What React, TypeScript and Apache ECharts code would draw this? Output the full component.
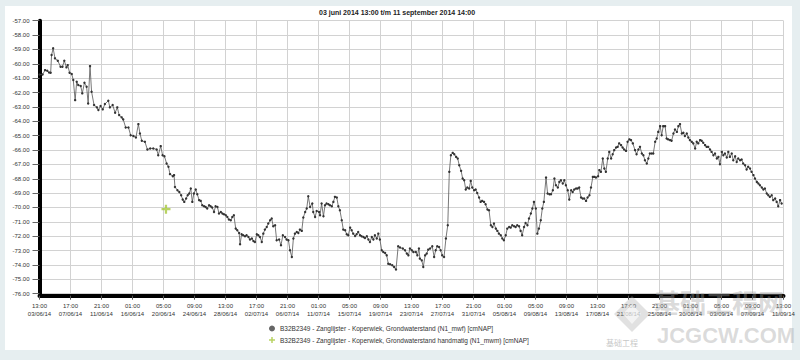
import React, { useEffect, useRef } from "react";
import * as echarts from "echarts";

const TITLE = "03 juni 2014 13:00 t/m 11 september 2014 14:00";
const SERIES_MWF = "B32B2349 - Zanglijster - Koperwiek, Grondwaterstand (N1_mwf) [cmNAP]";
const SERIES_MWM = "B32B2349 - Zanglijster - Koperwiek, Grondwaterstand handmatig (N1_mwm) [cmNAP]";

// start of the period: 03-06-2014 13:00
const START_UTC = Date.UTC(2014, 5, 3, 13, 0);
// x-axis: hours since start, one tick every 100 h
const X_MIN = 0;
const X_MAX = 2400;
const X_STEP = 100;
const Y_MIN = -76;
const Y_MAX = -57;
const Y_STEP = 1;

// hours since start of each logger reading
const hours = [
  0, 10, 18, 25, 31, 36, 39, 44, 50, 59,
  68, 74, 80, 87, 91, 97, 104, 109, 115, 120,
  125, 133, 138, 145, 152, 157, 163, 168, 176, 185,
  190, 197, 204, 211, 222, 227, 236, 244, 251, 257,
  265, 270, 278, 287, 294, 303, 311, 319, 324, 330,
  340, 348, 357, 367, 378, 383, 391, 397, 403, 410,
  416, 421, 430, 434, 437, 445, 451, 457, 462, 467,
  473, 478, 483, 488, 493, 498, 504, 509, 515, 520,
  525, 531, 536, 541, 547, 552, 557, 563, 568, 574,
  579, 585, 590, 595, 601, 606, 611, 617, 622, 627,
  633, 638, 644, 647, 652, 657, 663, 668, 674, 679,
  685, 690, 695, 701, 706, 711, 717, 722, 727, 733,
  738, 744, 749, 754, 760, 765, 773, 779, 785, 792,
  797, 803, 808, 814, 819, 824, 830, 835, 840, 846,
  851, 857, 862, 867, 873, 880, 883, 889, 894, 902,
  905, 910, 916, 921, 926, 932, 937, 943, 948, 953,
  959, 964, 969, 975, 980, 986, 991, 996, 1002, 1007,
  1012, 1018, 1023, 1028, 1034, 1039, 1045, 1050, 1056, 1061,
  1066, 1072, 1077, 1082, 1088, 1093, 1098, 1104, 1109, 1115,
  1120, 1125, 1131, 1138, 1144, 1150, 1157, 1163, 1172, 1179,
  1185, 1190, 1195, 1201, 1206, 1214, 1219, 1224, 1227, 1233,
  1238, 1244, 1249, 1254, 1260, 1267, 1273, 1278, 1283, 1289,
  1294, 1299, 1305, 1311, 1317, 1322, 1327, 1333, 1338, 1344,
  1349, 1354, 1360, 1365, 1370, 1375, 1380, 1386, 1391, 1396,
  1402, 1407, 1412, 1418, 1423, 1428, 1434, 1439, 1445, 1450,
  1456, 1461, 1466, 1472, 1477, 1482, 1488, 1493, 1498, 1504,
  1509, 1515, 1520, 1525, 1531, 1536, 1541, 1547, 1552, 1557,
  1563, 1568, 1574, 1579, 1585, 1590, 1595, 1601, 1606, 1611,
  1617, 1622, 1627, 1634, 1639, 1645, 1650, 1656, 1661, 1666,
  1672, 1677, 1682, 1688, 1693, 1698, 1704, 1709, 1715, 1720,
  1725, 1731, 1736, 1741, 1747, 1752, 1757, 1763, 1768, 1774,
  1779, 1785, 1790, 1795, 1802, 1806, 1811, 1817, 1822, 1827,
  1833, 1838, 1844, 1849, 1854, 1860, 1865, 1870, 1876, 1881,
  1886, 1892, 1897, 1903, 1908, 1914, 1921, 1926, 1932, 1937,
  1943, 1948, 1953, 1959, 1964, 1969, 1975, 1980, 1986, 1991,
  1996, 2002, 2007, 2012, 2018, 2023, 2028, 2034, 2039, 2045,
  2050, 2056, 2061, 2066, 2072, 2077, 2082, 2088, 2093, 2098,
  2104, 2109, 2115, 2120, 2125, 2131, 2136, 2141, 2147, 2152,
  2157, 2163, 2168, 2174, 2179, 2185, 2190, 2195, 2201, 2206,
  2211, 2217, 2222, 2227, 2233, 2238, 2244, 2249, 2254, 2260,
  2265, 2270, 2276, 2281, 2286, 2292, 2297, 2303, 2308, 2314,
  2319, 2324, 2330, 2335, 2340, 2346, 2351, 2356, 2362, 2367,
  2373, 2378, 2383, 2389, 2394,
];

// groundwater level (N1_mwf) in cm NAP
const levels = [
  -60.74, -60.74, -60.44, -60.48, -60.6, -60.62, -59.39, -58.92, -59.62, -59.79,
  -60.21, -60.21, -59.79, -60.25, -60.09, -60.62, -60.71, -61.13, -62.53, -61.25,
  -61.48, -61.55, -62.06, -61.32, -61.6, -62.76, -60.16, -61.95, -62.87, -63.03,
  -63.22, -62.94, -63.17, -62.8, -62.57, -63.03, -62.87, -63.41, -63.03, -63.57,
  -63.73, -63.87, -64.43, -64.43, -64.97, -65.03, -65.13, -64.2, -64.85, -65.36,
  -65.43, -65.96, -65.89, -65.89, -65.96, -66.36, -65.73, -66.36, -66.43, -66.94,
  -67.17, -67.68, -67.82, -67.75, -68.57, -68.8, -68.92, -69.15, -69.45, -69.61,
  -69.38, -69.15, -69.03, -68.68, -69.61, -69.03, -68.75, -69.08, -69.49, -69.54,
  -69.84, -69.91, -69.96, -70.07, -69.84, -69.91, -70.0, -70.31, -69.91, -69.96,
  -70.42, -70.31, -70.42, -70.47, -70.54, -70.66, -70.84, -70.89, -70.66, -70.54,
  -71.47, -71.59, -71.77, -72.56, -71.86, -71.93, -72.0, -71.93, -72.05, -72.23,
  -72.16, -72.33, -72.4, -71.86, -71.93, -72.05, -72.4, -71.82, -71.54, -71.36,
  -71.12, -70.89, -70.77, -71.31, -71.24, -72.28, -72.23, -72.63, -71.93, -72.05,
  -72.23, -72.28, -72.98, -73.45, -72.16, -71.82, -71.7, -71.77, -71.54, -71.63,
  -70.7, -70.31, -70.07, -69.22, -69.96, -69.72, -70.31, -70.66, -70.24, -70.31,
  -70.54, -69.72, -70.61, -69.84, -69.72, -69.77, -69.84, -69.91, -69.61, -69.26,
  -69.31, -69.91, -70.19, -70.89, -71.54, -71.59, -71.86, -71.93, -71.4, -71.59,
  -71.82, -71.98, -71.86, -71.7, -71.93, -72.0, -72.05, -72.12, -72.0, -72.23,
  -72.4, -72.05, -72.23, -71.93, -72.16, -71.82, -72.23, -72.98, -73.1, -73.17,
  -73.33, -73.91, -73.95, -74.02, -74.14, -74.32, -72.7, -72.79, -72.86, -72.98,
  -73.21, -73.33, -72.86, -72.98, -73.1, -73.1, -73.33, -72.86, -73.56, -73.68,
  -74.14, -73.33, -73.21, -72.93, -72.86, -72.7, -73.45, -72.98, -72.7, -72.75,
  -72.98, -73.33, -73.45, -72.16, -71.24, -67.52, -66.36, -66.2, -66.29, -66.48,
  -66.59, -67.06, -67.45, -67.98, -68.1, -68.75, -68.61, -68.68, -68.15, -68.61,
  -68.8, -68.75, -68.99, -69.31, -69.61, -69.54, -69.61, -69.77, -70.14, -70.19,
  -71.24, -71.36, -71.12, -71.47, -71.63, -71.82, -71.93, -72.16, -72.28, -71.93,
  -71.47, -71.36, -71.4, -71.24, -71.31, -71.36, -71.24, -71.31, -71.63, -71.93,
  -71.36, -71.08, -71.24, -70.77, -70.42, -70.07, -69.61, -70.07, -71.82, -71.47,
  -70.89, -70.07, -69.61, -67.91, -69.03, -69.08, -69.08, -68.8, -67.98, -68.45,
  -68.61, -68.22, -68.1, -68.33, -68.1, -68.45, -68.8, -69.45, -68.8, -68.92,
  -68.75, -68.68, -68.68, -68.61, -69.31, -69.38, -69.38, -69.54, -69.31, -69.15,
  -68.61, -67.87, -67.87, -67.91, -67.82, -67.4, -67.52, -66.59, -67.29, -67.52,
  -66.59, -66.13, -66.59, -66.29, -66.01, -65.82, -65.78, -65.54, -65.66, -65.82,
  -65.96, -66.06, -65.43, -65.26, -65.31, -65.54, -66.01, -66.29, -65.96, -65.78,
  -66.24, -66.36, -66.71, -66.94, -66.59, -66.24, -66.24, -66.24, -65.43, -65.2,
  -64.74, -64.34, -64.97, -64.34, -64.34, -65.2, -65.26, -65.31, -65.36, -64.85,
  -64.57, -64.74, -64.34, -64.2, -64.85, -64.8, -65.03, -64.85, -65.13, -65.31,
  -65.43, -65.54, -65.89, -65.43, -65.54, -65.31, -65.36, -65.5, -65.66, -65.78,
  -65.78, -65.96, -66.13, -66.36, -66.24, -66.59, -66.48, -66.99, -66.13, -66.36,
  -66.24, -66.52, -66.13, -66.48, -66.24, -66.71, -66.43, -66.83, -66.59, -66.71,
  -66.66, -66.94, -67.06, -67.36, -67.17, -67.29, -67.52, -67.75, -67.98, -68.22,
  -68.33, -68.45, -68.61, -68.75, -68.68, -69.03, -69.15, -69.26, -69.15, -69.49,
  -69.38, -69.61, -69.91, -69.49, -69.72,
];

// manual measurement (N1_mwm)
const manualHours = [408];
const manualLevels = [-70.12];

const PLUS_PATH = "path://M3,0H5V3H8V5H5V8H3V5H0V3H3Z";
const FONT = "'Liberation Sans', Arial, sans-serif";
const CJK = "'Noto Sans CJK SC', sans-serif";

const pad = (n: number) => (n < 10 ? "0" + n : "" + n);
function formatHours(h: number): string {
  const d = new Date(START_UTC + h * 3600000);
  return (
    pad(d.getUTCHours()) + ":" + pad(d.getUTCMinutes()) + "\n" +
    pad(d.getUTCDate()) + "/" + pad(d.getUTCMonth() + 1) + "/" + pad(d.getUTCFullYear() % 100)
  );
}

export default function App() {
  const ref = useRef<HTMLDivElement>(null);
  useEffect(() => {
    if (!ref.current) return;
    const chart = echarts.init(ref.current, null, { renderer: "svg" });
    const n = Math.min(hours.length, levels.length);
    const mainData = hours.slice(0, n).map((h, i) => [h, levels[i]]);
    const manualData = manualHours.map((h, i) => [h, manualLevels[i]]);
    chart.setOption({
      animation: false,
      backgroundColor: "#e6eef0",
      textStyle: { fontFamily: FONT },
      title: {
        text: TITLE,
        left: 314,
        top: 4,
        textStyle: { fontSize: 7, fontWeight: "bold", color: "#222", fontFamily: FONT },
      },
      graphic: [
        { type: "rect", z: -100, shape: { x: 5, y: 6, width: 787, height: 344 }, style: { fill: "#ffffff" } },
        {
          type: "polygon",
          z: 100,
          shape: { points: [[632, 296], [650, 314], [632, 332], [614, 314]] },
          style: { fill: "rgba(170,170,170,0.35)" },
        },
        {
          type: "polygon",
          z: 101,
          shape: { points: [[632, 304], [641, 314], [632, 324], [623, 314]] },
          style: { fill: "rgba(255,255,255,0.6)" },
        },
        { type: "text", z: 100, x: 654, y: 288, style: { text: "基础工程网", fontSize: 26, fontWeight: "bold", fill: "rgba(160,160,160,0.4)", fontFamily: CJK } },
        { type: "text", z: 100, x: 657, y: 324, style: { text: "JCGCW.COM", fontSize: 22, fontWeight: "bold", fill: "rgba(160,160,160,0.38)", fontFamily: FONT } },
        { type: "text", z: 100, x: 606, y: 338, style: { text: "基础工程", fontSize: 8, fill: "rgba(140,140,140,0.5)", fontFamily: CJK } },
      ],
      legend: {
        orient: "vertical",
        left: 269,
        top: 325,
        itemWidth: 6,
        itemHeight: 6,
        itemGap: 4.5,
        padding: 0,
        textStyle: { fontSize: 6.5, color: "#333", fontFamily: FONT, padding: [0, 0, 0, 0] },
        data: [
          { name: SERIES_MWF, icon: "circle", itemStyle: { color: "#666" } },
          { name: SERIES_MWM, icon: PLUS_PATH, itemStyle: { color: "#a6c83c" } },
        ],
      },
      grid: { left: 39.5, right: 16.5, top: 20.7, bottom: 66.3, containLabel: false },
      xAxis: {
        type: "value",
        min: X_MIN,
        max: X_MAX,
        interval: X_STEP,
        offset: 2,
        axisLine: { show: true, lineStyle: { color: "#000", width: 4 } },
        axisTick: { show: true, length: 4, lineStyle: { color: "#555" } },
        splitLine: { show: true, lineStyle: { color: "#d2d2d2", width: 1 } },
        axisLabel: {
          fontSize: 6,
          lineHeight: 8,
          color: "#333",
          margin: 6,
          fontFamily: FONT,
          formatter: (v: number) => formatHours(v),
        },
      },
      yAxis: {
        type: "value",
        min: Y_MIN,
        max: Y_MAX,
        interval: Y_STEP,
        offset: 2,
        axisLine: { show: true, lineStyle: { color: "#000", width: 4 } },
        axisTick: { show: true, length: 7, lineStyle: { color: "#666" } },
        splitLine: { show: true, lineStyle: { color: "#d2d2d2", width: 1 } },
        axisLabel: {
          fontSize: 6,
          color: "#333",
          margin: 8,
          fontFamily: FONT,
          formatter: (v: number) => v.toFixed(2),
        },
      },
      series: [
        {
          name: SERIES_MWF,
          type: "line",
          data: mainData,
          showSymbol: true,
          showAllSymbol: true,
          symbol: "circle",
          symbolSize: 2.4,
          lineStyle: { color: "#555", width: 0.8 },
          itemStyle: { color: "#333" },
          z: 3,
        },
        {
          name: SERIES_MWM,
          type: "scatter",
          data: manualData,
          symbol: PLUS_PATH,
          symbolSize: 9,
          itemStyle: { color: "#a6c83c" },
          z: 4,
        },
      ],
    });
    return () => chart.dispose();
  }, []);
  return (
    <div
      ref={ref}
      style={{ position: "absolute", left: 0, top: 0, width: 800, height: 360 }}
    />
  );
}
